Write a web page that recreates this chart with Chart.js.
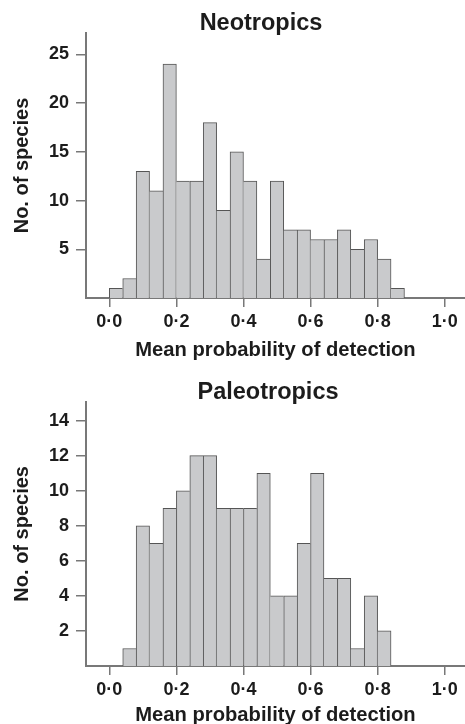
<!DOCTYPE html>
<html>
<head>
<meta charset="utf-8">
<script src="https://cdn.jsdelivr.net/npm/chart.js@4.4.1/dist/chart.umd.min.js"></script>
<style>
  html, body { margin: 0; padding: 0; background: #fff; }
  canvas { display: block; }
</style>
</head>
<body>
<canvas id="chart-neo" width="465" height="366"></canvas>
<canvas id="chart-paleo" width="465" height="358"></canvas>
<script>
// histogram bins (lower edges), width 0.04
const binStarts = [0.00, 0.04, 0.08, 0.12, 0.16, 0.20, 0.24, 0.28, 0.32, 0.36, 0.40,
  0.44, 0.48, 0.52, 0.56, 0.60, 0.64, 0.68, 0.72, 0.76, 0.80, 0.84];
const binWidth = 0.04;

const neotropicsCounts = [1, 2, 13, 11, 24, 12, 12, 18, 9, 15, 12, 4, 12, 7, 7, 6, 6, 7, 5, 6, 4, 1];
const paleotropicsCounts = [0, 1, 8, 7, 9, 10, 12, 12, 9, 9, 9, 11, 4, 4, 7, 11, 5, 5, 1, 4, 2, 0];

const xTickValues = [0, 0.2, 0.4, 0.6, 0.8, 1.0];
const neotropicsYTicks = [5, 10, 15, 20, 25];
const paleotropicsYTicks = [2, 4, 6, 8, 10, 12, 14];

const AXIS_GREY = '#787878';
const BAR_FILL = '#c9cacc';
const BAR_EDGE = '#555555';
const TEXT = '#1c1c1c';
const FONT = "'Liberation Sans', Arial, Helvetica, sans-serif";

// panel heading, placed where the original has it
const panelTitle = {
  id: 'panelTitle',
  afterDraw(chart, args, opts) {
    const ctx = chart.ctx;
    ctx.save();
    ctx.font = `bold ${opts.size}px ${FONT}`;
    ctx.fillStyle = TEXT;
    ctx.textAlign = 'center';
    ctx.textBaseline = 'alphabetic';
    ctx.fillText(opts.text, opts.x, opts.y);
    ctx.restore();
  },
};

// only one edge line between neighbouring bars: the taller bar draws it
const edgeWidths = (counts) => (ctx) => {
  const i = ctx.dataIndex;
  const v = counts[i] || 0;
  const prev = counts[i - 1] || 0;
  const next = counts[i + 1] || 0;
  return { top: 1, bottom: 0, left: prev <= v ? 1 : 0, right: next < v ? 1 : 0 };
};

const initHistogram = (id, p) => {
  const data = {
    datasets: [
      {
        data: binStarts.map((s, i) => ({ x: s + binWidth / 2, y: p.counts[i] || null })),
        backgroundColor: BAR_FILL,
        borderColor: BAR_EDGE,
        borderWidth: edgeWidths(p.counts),
        borderSkipped: false,
        barPercentage: 1,
        categoryPercentage: 1,
      },
    ],
  };

  const config = {
    type: 'bar',
    data: data,
    plugins: [panelTitle],
    options: {
      responsive: false,
      animation: false,
      devicePixelRatio: 1,
      layout: { padding: { top: p.top, left: 0, right: 0, bottom: 0 } },
      plugins: {
        legend: { display: false },
        tooltip: { enabled: false },
        panelTitle: { text: p.title, x: p.titleX, y: p.titleY, size: 23.5 },
      },
      scales: {
        x: {
          type: 'linear',
          min: -0.0695,
          max: 1.0605,
          offset: false,
          afterBuildTicks: (s) => {
            s.ticks = xTickValues.map((v) => ({ value: v }));
          },
          afterFit: (s) => {
            s.height = p.xHeight;
          },
          ticks: {
            padding: 4,
            color: TEXT,
            font: { family: FONT, size: 18, weight: 'bold' },
            maxRotation: 0,
            callback: (v) => Number(v).toFixed(1).replace('.', '\u00b7'),
          },
          grid: {
            offset: false,
            drawOnChartArea: false,
            drawTicks: true,
            tickLength: 9,
            color: AXIS_GREY,
            lineWidth: 1.5,
          },
          border: { display: true, color: AXIS_GREY, width: 2 },
          title: {
            display: true,
            text: 'Mean probability of detection',
            color: TEXT,
            font: { family: FONT, size: 20.2, weight: 'bold', lineHeight: '16px' },
            padding: { top: 0, bottom: p.xTitlePad },
          },
        },
        y: {
          min: 0,
          max: p.yMax,
          afterBuildTicks: (s) => {
            s.ticks = p.yTicks.map((v) => ({ value: v }));
          },
          afterFit: (s) => {
            s.width = 86;
          },
          ticks: {
            padding: 7,
            color: TEXT,
            font: { family: FONT, size: 18, weight: 'bold' },
          },
          grid: {
            drawOnChartArea: false,
            drawTicks: true,
            tickLength: 10,
            color: AXIS_GREY,
            lineWidth: 1.5,
          },
          border: { display: true, color: AXIS_GREY, width: 2 },
          title: {
            display: true,
            text: 'No. of species',
            color: TEXT,
            font: { family: FONT, size: 20, weight: 'bold', lineHeight: '20px' },
            padding: { top: 12.5, bottom: 0 },
          },
        },
      },
    },
  };

  return new Chart(document.getElementById(id), config);
};

const neoChart = initHistogram('chart-neo', {
  title: 'Neotropics',
  titleX: 261,
  titleY: 29.5,
  counts: neotropicsCounts,
  yTicks: neotropicsYTicks,
  yMax: 27.2,
  top: 33,
  xHeight: 68,
  xTitlePad: 8,
});

const paleoChart = initHistogram('chart-paleo', {
  title: 'Paleotropics',
  titleX: 268,
  titleY: 33,
  counts: paleotropicsCounts,
  yTicks: paleotropicsYTicks,
  yMax: 15.08,
  top: 35.7,
  xHeight: 58,
  xTitlePad: 0.7,
});
</script>
</body>
</html>
